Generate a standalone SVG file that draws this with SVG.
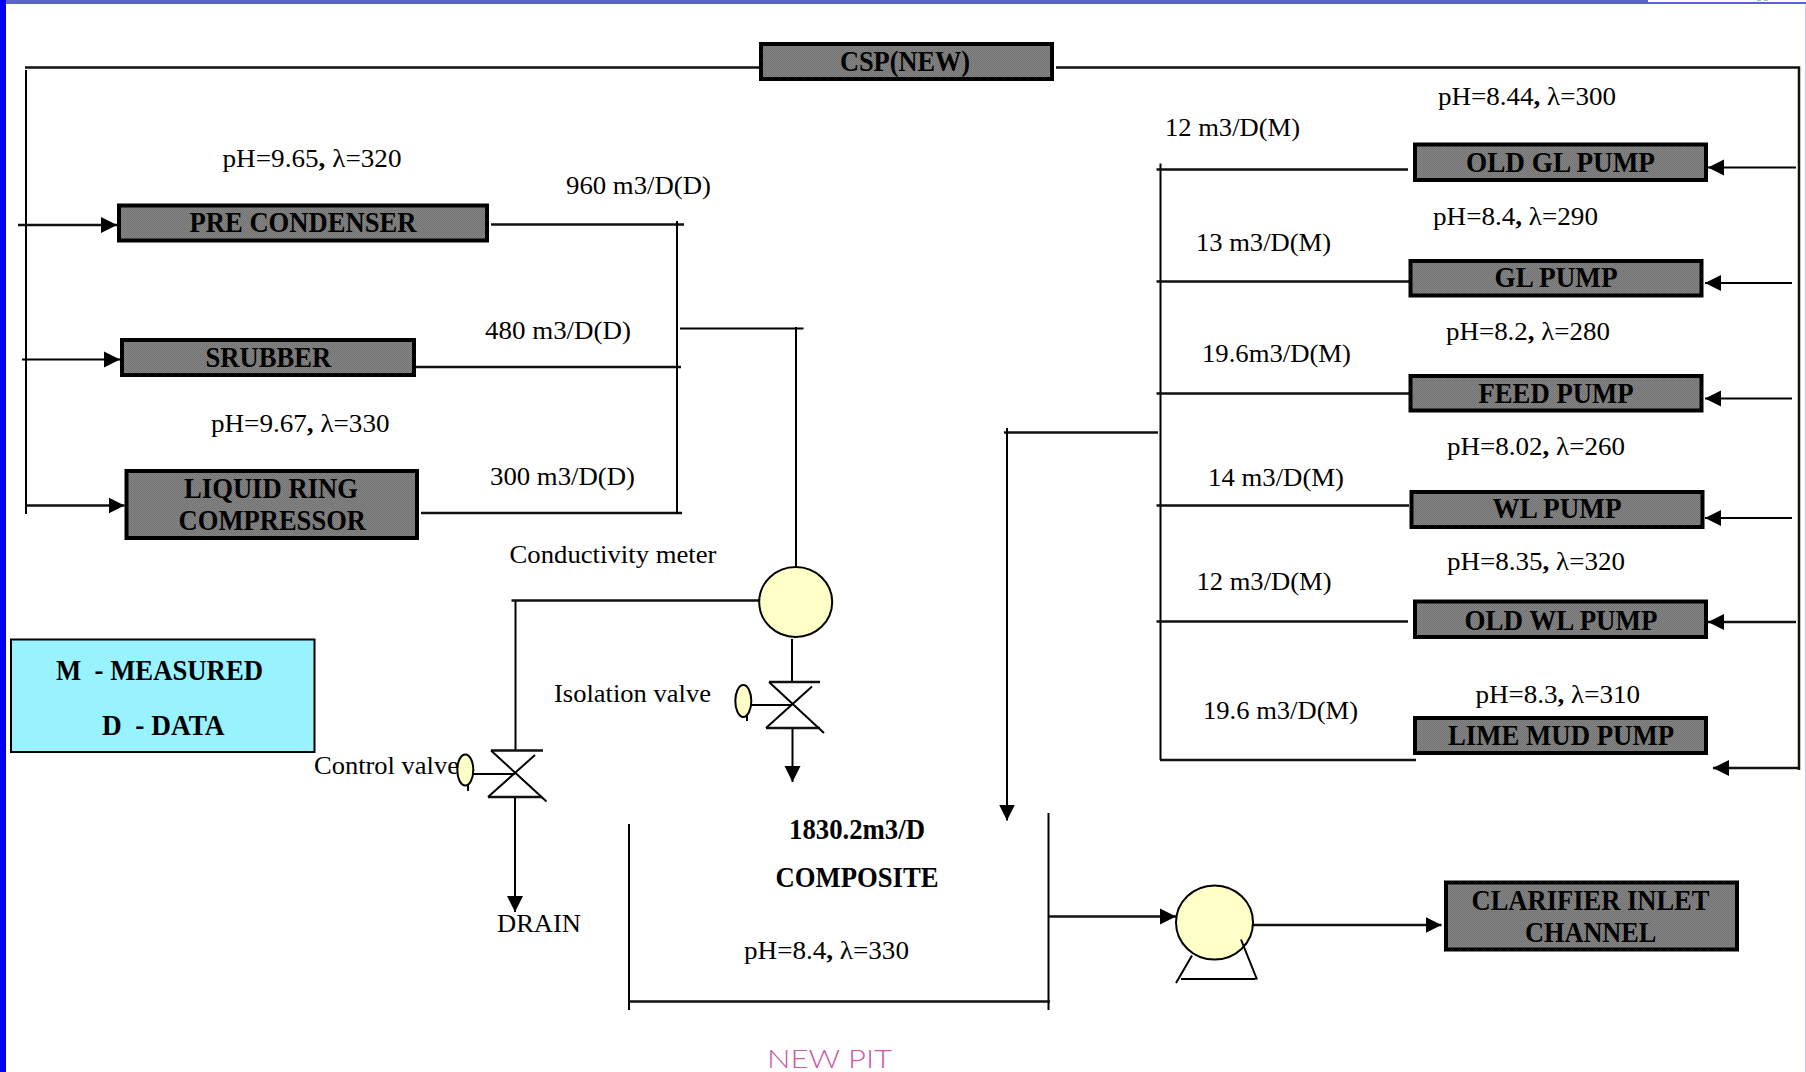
<svg xmlns="http://www.w3.org/2000/svg" width="1806" height="1072" viewBox="0 0 1806 1072">
<style>
text{font-family:"Liberation Serif","Times New Roman",serif;fill:#000}
.r{font-size:26px}
.b{font-size:28.5px;font-weight:bold}
.bt{font-weight:bold}
.box{fill:url(#dither);stroke:#000;stroke-width:4}
.l{fill:none;stroke:#000;stroke-width:2}
.t{fill:none;stroke:#111;stroke-width:2.5}
.e{fill:#ffffc8;stroke:#000;stroke-width:2}
.pit{font-family:"Lato","Liberation Sans",sans-serif;font-size:26px;font-weight:300;fill:#cc5aa8}
</style>
<defs>
<pattern id="dither" width="2" height="2" patternUnits="userSpaceOnUse">
<rect width="2" height="2" fill="#878787"/><rect width="1" height="1" fill="#707070"/><rect x="1" y="1" width="1" height="1" fill="#707070"/>
</pattern>
<marker id="a" markerUnits="userSpaceOnUse" markerWidth="17" markerHeight="17" refX="16" refY="8.5" orient="auto"><path d="M0 0.5L16 8.5L0 16.5Z" fill="#000"/></marker>
</defs>
<rect width="1806" height="1072" fill="#fff"/>
<g id="frame">
<rect x="0" y="0" width="1806" height="4" fill="#5b64c8"/>
<rect x="1648" y="0" width="158" height="2" fill="#fff"/>
<rect x="1757" y="0" width="4" height="1" fill="#8fd0b0"/>
<rect x="1764" y="0" width="4" height="1" fill="#8fd0b0"/>
<rect x="0" y="0" width="6" height="1072" fill="#0000f0"/>
<rect x="1805" y="4" width="1" height="1068" fill="#c8c8e8"/>
</g>
<g id="connectors">
<path class="t" d="M25 67.5H759M1056 67.5H1799V770"/>
<path class="l" d="M26 70V514"/>
<path class="t" d="M18 225H117" marker-end="url(#a)"/>
<path class="l" d="M22 359.5H120" marker-end="url(#a)"/>
<path class="t" d="M26 505.5H124.5" marker-end="url(#a)"/>
<path class="t" d="M491 224.5H684M416 367H681M421 513H682"/>
<path class="l" d="M677 221V514"/>
<path class="l" d="M680 328.5H803.5M796 327V567"/>
<path class="t" d="M511.5 600.5H761"/>
<path class="l" d="M515.5 601V751"/>
<path class="l" d="M515 797V912" marker-end="url(#a)"/>
<path class="l" d="M792 639V682"/>
<path class="l" d="M792.5 728V782" marker-end="url(#a)"/>
<path class="l" d="M629 824V1010M1048.5 813V1010"/>
<path class="t" d="M629 1001.5H1050"/>
<path class="l" d="M1160.5 163.5V760"/>
<path class="t" d="M1160 760H1416"/>
<path class="t" d="M1156.5 169.5H1408M1156.5 281.5H1409M1156.5 393.5H1409M1156.5 505.5H1409M1156.5 621.5H1408"/>
<path class="t" d="M1004 432.5H1158"/>
<path class="l" d="M1007 428V820.5" marker-end="url(#a)"/>
<path class="l" d="M1796 167.5H1708" marker-end="url(#a)"/>
<path class="l" d="M1792 283H1705" marker-end="url(#a)"/>
<path class="l" d="M1792 398.5H1705" marker-end="url(#a)"/>
<path class="l" d="M1792 518H1705" marker-end="url(#a)"/>
<path class="t" d="M1796 622H1708" marker-end="url(#a)"/>
<path class="t" d="M1799 768H1713" marker-end="url(#a)"/>
<path class="t" d="M1049 916.5H1176" marker-end="url(#a)"/>
<path class="t" d="M1253 925H1441.5" marker-end="url(#a)"/>
</g>
<g id="csp"><rect class="box" x="761" y="44" width="291" height="35"/><text class="b" x="840" y="71" textLength="130" lengthAdjust="spacingAndGlyphs">CSP(NEW)</text></g>
<g id="pre-condenser"><rect class="box" x="119" y="205.5" width="368" height="35"/><text class="b" x="189.5" y="232" textLength="227" lengthAdjust="spacingAndGlyphs">PRE CONDENSER</text></g>
<g id="srubber"><rect class="box" x="122" y="340" width="292" height="35"/><text class="b" x="205.6" y="367" textLength="125.5" lengthAdjust="spacingAndGlyphs">SRUBBER</text></g>
<g id="liquid-ring"><rect class="box" x="126.5" y="471" width="290.5" height="67"/><text class="b" x="184" y="498" textLength="174" lengthAdjust="spacingAndGlyphs">LIQUID RING</text><text class="b" x="178.6" y="530" textLength="187.4" lengthAdjust="spacingAndGlyphs">COMPRESSOR</text></g>
<g id="old-gl-pump"><rect class="box" x="1415" y="144.5" width="291" height="35.5"/><text class="b" x="1466" y="172" textLength="189" lengthAdjust="spacingAndGlyphs">OLD GL PUMP</text></g>
<g id="gl-pump"><rect class="box" x="1410.5" y="261" width="291" height="34.5"/><text class="b" x="1494.5" y="287" textLength="123" lengthAdjust="spacingAndGlyphs">GL PUMP</text></g>
<g id="feed-pump"><rect class="box" x="1410.5" y="376" width="291" height="34.5"/><text class="b" x="1478.5" y="403" textLength="155" lengthAdjust="spacingAndGlyphs">FEED PUMP</text></g>
<g id="wl-pump"><rect class="box" x="1411.5" y="492" width="291" height="35"/><text class="b" x="1492.5" y="518" textLength="129" lengthAdjust="spacingAndGlyphs">WL PUMP</text></g>
<g id="old-wl-pump"><rect class="box" x="1415" y="601.5" width="291" height="35.5"/><text class="b" x="1464.6" y="630" textLength="193" lengthAdjust="spacingAndGlyphs">OLD WL PUMP</text></g>
<g id="lime-mud-pump"><rect class="box" x="1415" y="718" width="291" height="35"/><text class="b" x="1448" y="745" textLength="226" lengthAdjust="spacingAndGlyphs">LIME MUD PUMP</text></g>
<g id="clarifier"><rect class="box" x="1446" y="882.5" width="291" height="67"/><text class="b" x="1471.5" y="910" textLength="238" lengthAdjust="spacingAndGlyphs">CLARIFIER INLET</text><text class="b" x="1525" y="942" textLength="131.4" lengthAdjust="spacingAndGlyphs">CHANNEL</text></g>
<g id="legend"><rect x="11" y="639.5" width="303.5" height="112.5" fill="#99f2ff" stroke="#000" stroke-width="2"/><text class="b" x="56" y="680" textLength="207" lengthAdjust="spacingAndGlyphs" xml:space="preserve">M  - MEASURED</text><text class="b" x="102" y="735" textLength="122.6" lengthAdjust="spacingAndGlyphs" xml:space="preserve">D  - DATA</text></g>
<g id="conductivity-meter"><ellipse class="e" cx="795.7" cy="602" rx="36.5" ry="35"/></g>
<g id="isolation-valve">
<path class="t" d="M769 682H820M766 728H820"/>
<path class="l" d="M769 682L824 733M812 686.5L766 728M751 705H792"/>
<ellipse class="e" cx="743.3" cy="701" rx="8" ry="16"/><path class="l" d="M747 716V721" stroke-width="1"/>
</g>
<g id="control-valve">
<path class="t" d="M491 750.5H543M488 797H542"/>
<path class="l" d="M491 750.5L546.5 801.5M535 755L488 797M473 774H515"/>
<ellipse class="e" cx="465.3" cy="770" rx="8" ry="15.5"/><path class="l" d="M468 785V791" stroke-width="1"/>
</g>
<g id="pump">
<ellipse class="e" cx="1214.5" cy="922.5" rx="38.5" ry="37"/>
<path class="l" d="M1192 955.5L1176 983M1241 939.5L1257 979.5M1181 979H1255.5"/>
</g>
<g id="labels">
<text class="r" x="222.5" y="167" textLength="179" lengthAdjust="spacingAndGlyphs">pH=9.65<tspan class="bt">,</tspan> λ=320</text>
<text class="r" x="566" y="193.5" textLength="145" lengthAdjust="spacingAndGlyphs">960 m3/D(D)</text>
<text class="r" x="485" y="339" textLength="146" lengthAdjust="spacingAndGlyphs">480 m3/D(D)</text>
<text class="r" x="211" y="432" textLength="178.5" lengthAdjust="spacingAndGlyphs">pH=9.67<tspan class="bt">,</tspan> λ=330</text>
<text class="r" x="490" y="485" textLength="145" lengthAdjust="spacingAndGlyphs">300 m3/D(D)</text>
<text class="r" x="1438" y="105" textLength="178" lengthAdjust="spacingAndGlyphs">pH=8.44<tspan class="bt">,</tspan> λ=300</text>
<text class="r" x="1165" y="136" textLength="135" lengthAdjust="spacingAndGlyphs">12 m3/D(M)</text>
<text class="r" x="1433" y="225" textLength="165" lengthAdjust="spacingAndGlyphs">pH=8.4<tspan class="bt">,</tspan> λ=290</text>
<text class="r" x="1196" y="251.4" textLength="135" lengthAdjust="spacingAndGlyphs">13 m3/D(M)</text>
<text class="r" x="1446" y="340" textLength="164" lengthAdjust="spacingAndGlyphs">pH=8.2<tspan class="bt">,</tspan> λ=280</text>
<text class="r" x="1202" y="362" textLength="149" lengthAdjust="spacingAndGlyphs">19.6m3/D(M)</text>
<text class="r" x="1447" y="455" textLength="178" lengthAdjust="spacingAndGlyphs">pH=8.02<tspan class="bt">,</tspan> λ=260</text>
<text class="r" x="1208" y="486" textLength="136" lengthAdjust="spacingAndGlyphs">14 m3/D(M)</text>
<text class="r" x="1447" y="570" textLength="178" lengthAdjust="spacingAndGlyphs">pH=8.35<tspan class="bt">,</tspan> λ=320</text>
<text class="r" x="1196.5" y="590" textLength="135" lengthAdjust="spacingAndGlyphs">12 m3/D(M)</text>
<text class="r" x="1475.5" y="702.5" textLength="164.5" lengthAdjust="spacingAndGlyphs">pH=8.3<tspan class="bt">,</tspan> λ=310</text>
<text class="r" x="1203" y="719" textLength="155" lengthAdjust="spacingAndGlyphs">19.6 m3/D(M)</text>
<text class="r" x="509.5" y="562.7" textLength="207" lengthAdjust="spacingAndGlyphs">Conductivity meter</text>
<text class="r" x="554" y="702" textLength="157" lengthAdjust="spacingAndGlyphs">Isolation valve</text>
<text class="r" x="314" y="773.7" textLength="145" lengthAdjust="spacingAndGlyphs">Control valve</text>
<text class="r" x="497" y="931.7" textLength="84" lengthAdjust="spacingAndGlyphs">DRAIN</text>
<text class="b" x="789" y="838.7" textLength="136" lengthAdjust="spacingAndGlyphs">1830.2m3/D</text>
<text class="b" x="775.5" y="887" textLength="163" lengthAdjust="spacingAndGlyphs">COMPOSITE</text>
<text class="r" x="744" y="959.4" textLength="165" lengthAdjust="spacingAndGlyphs">pH=8.4<tspan class="bt">,</tspan> λ=330</text>
<text class="pit" x="767" y="1068" textLength="125" lengthAdjust="spacingAndGlyphs">NEW PIT</text>
</g>
</svg>
